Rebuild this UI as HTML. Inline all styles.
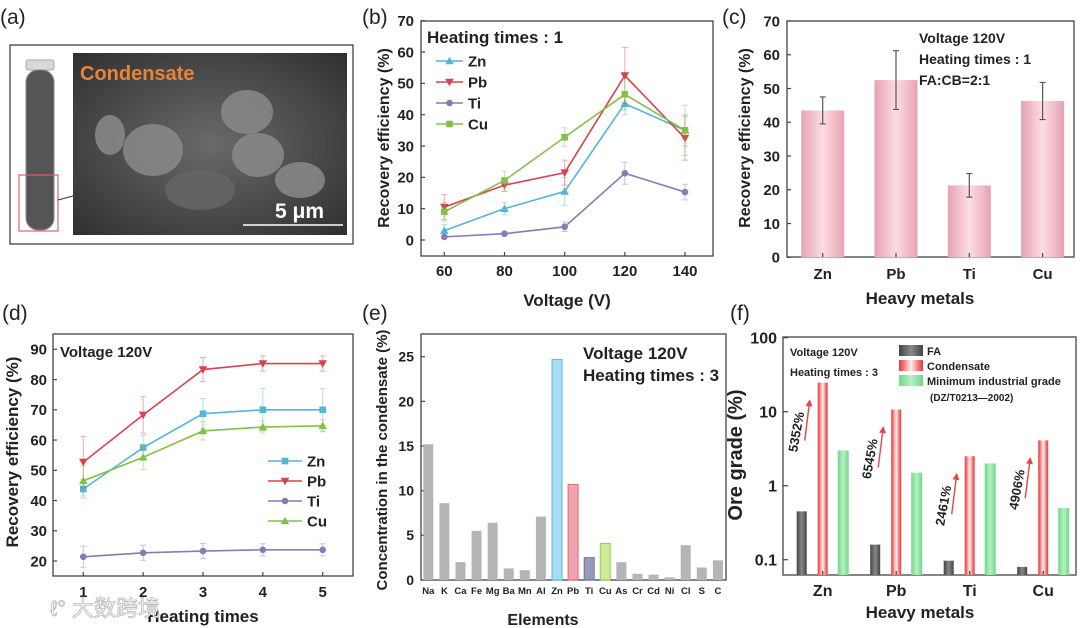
<!DOCTYPE html>
<html><head><meta charset="utf-8">
<style>
html,body{margin:0;padding:0;background:#fff;}
svg{display:block;font-family:"Liberation Sans",Arial,sans-serif;}
.t{font-weight:bold;fill:#222;}
</style></head>
<body>
<svg id="fig" width="1080" height="628" viewBox="0 0 1080 628" xmlns="http://www.w3.org/2000/svg">
<defs>
<linearGradient id="pinkG" x1="0" x2="1" y1="0" y2="0"><stop offset="0" stop-color="#e7a2b3"/><stop offset="0.5" stop-color="#fcdde2"/><stop offset="1" stop-color="#e7a2b3"/></linearGradient>
<linearGradient id="grayG" x1="0" x2="1"><stop offset="0" stop-color="#444"/><stop offset="0.5" stop-color="#888"/><stop offset="1" stop-color="#444"/></linearGradient>
<linearGradient id="redG" x1="0" x2="1"><stop offset="0" stop-color="#e23c3c"/><stop offset="0.2" stop-color="#f07878"/><stop offset="0.5" stop-color="#fff0f0"/><stop offset="0.8" stop-color="#f07878"/><stop offset="1" stop-color="#e23c3c"/></linearGradient>
<linearGradient id="greenG" x1="0" x2="1"><stop offset="0" stop-color="#6fd88a"/><stop offset="0.5" stop-color="#b6f0c2"/><stop offset="1" stop-color="#6fd88a"/></linearGradient>
<radialGradient id="semG" cx="0.5" cy="0.5" r="0.7"><stop offset="0" stop-color="#6a6a6a"/><stop offset="1" stop-color="#303030"/></radialGradient>
<marker id="arr" viewBox="0 0 10 10" refX="8" refY="5" markerWidth="5" markerHeight="5" orient="auto"><path d="M0,0 L10,5 L0,10 z" fill="#e04848"/></marker>
</defs>

<!-- Panel a -->
<g>
<text x="0" y="24" font-size="21" fill="#222">(a)</text>
<rect x="10" y="45" width="343" height="199" fill="#fff" stroke="#333" stroke-width="1.2"/>
<rect x="26" y="60" width="28" height="10" rx="2" fill="#d8d8d8" stroke="#aaa"/>
<rect x="26" y="70" width="28" height="160" rx="12" fill="#555" stroke="#888"/>
<rect x="19" y="175" width="39" height="56" fill="none" stroke="#e06060" stroke-width="1.2"/>
<line x1="58" y1="200" x2="73" y2="196" stroke="#333"/>
<rect x="73" y="53" width="274" height="182" fill="url(#semG)"/>
<g fill="#8a8a8a" opacity="0.85">
<ellipse cx="153" cy="150" rx="30" ry="26"/><ellipse cx="247" cy="112" rx="26" ry="22"/><ellipse cx="258" cy="155" rx="26" ry="22"/><ellipse cx="110" cy="135" rx="15" ry="20"/><ellipse cx="300" cy="180" rx="25" ry="18"/><ellipse cx="200" cy="190" rx="35" ry="20" fill="#666"/></g>
<text x="80" y="80" font-size="20" font-weight="bold" fill="#e8843a">Condensate</text>
<text x="275" y="218" font-size="21" font-weight="bold" fill="#fff">5 μm</text>
<line x1="243" y1="225" x2="343" y2="225" stroke="#fff" stroke-width="1.5"/>
</g>

<text x="362" y="24" font-size="21" fill="#222">(b)</text>
<text x="722" y="24" font-size="21" fill="#222">(c)</text>
<text x="2" y="320" font-size="21" fill="#222">(d)</text>
<text x="362" y="320" font-size="21" fill="#222">(e)</text>
<text x="730" y="320" font-size="21" fill="#222">(f)</text>

<g id="gb"></g>
<g id="gc"></g>
<g id="gd"></g>
<g id="ge"></g>
<g id="gf"></g>

<text x="50" y="616" font-size="22" fill="#fff" stroke="#bbb" stroke-width="0.8" font-family="'Liberation Sans','Noto Sans CJK SC',sans-serif">ℓ° 大数跨境</text>
</svg>
<script>
// ---------- data ----------
const bVoltages = [60, 80, 100, 120, 140];
const bZn = [3, 10, 15.5, 43.5, 35];
const bPb = [10.5, 17.5, 21.5, 52.5, 32.5];
const bTi = [1, 2, 4.2, 21.3, 15.3];
const bCu = [9, 19, 32.8, 46.5, 35];
const bZnErr = [2, 2, 4.5, 3.5, 5];
const bPbErr = [4, 2, 4, 9, 7];
const bTiErr = [0.5, 0.5, 1.5, 3.5, 2.5];
const bCuErr = [3, 3, 3, 5, 8];
const bYTicks = [0, 10, 20, 30, 40, 50, 60, 70];

const cMetals = ["Zn", "Pb", "Ti", "Cu"];
const cValues = [43.5, 52.5, 21.3, 46.3];
const cErr = [4, 8.7, 3.5, 5.5];
const cYTicks = [0, 10, 20, 30, 40, 50, 60, 70];

const dTimes = [1, 2, 3, 4, 5];
const dZn = [43.8, 57.5, 68.7, 70, 70];
const dPb = [52.7, 68.3, 83.3, 85.3, 85.3];
const dTi = [21.4, 22.7, 23.3, 23.7, 23.7];
const dCu = [46.5, 54.3, 63, 64.3, 64.7];
const dZnErr = [3, 4, 5, 7, 7];
const dPbErr = [8.5, 6, 4, 2.5, 2.5];
const dTiErr = [3.5, 2.5, 2.5, 2, 2];
const dCuErr = [5, 4, 3, 2, 2];
const dYTicks = [20, 30, 40, 50, 60, 70, 80, 90];

const eElements = ["Na","K","Ca","Fe","Mg","Ba","Mn","Al","Zn","Pb","Ti","Cu","As","Cr","Cd","Ni","Cl","S","C"];
const eValues = [15.2, 8.6, 2, 5.5, 6.4, 1.3, 1.1, 7.1, 24.7, 10.7, 2.5, 4.1, 2, 0.7, 0.6, 0.3, 3.9, 1.4, 2.2];
const eYTicks = [0, 5, 10, 15, 20, 25];

const fMetals = ["Zn", "Pb", "Ti", "Cu"];
const fFA = [0.45, 0.16, 0.097, 0.08];
const fCondensate = [24.7, 10.7, 2.5, 4.1];
const fMinGrade = [3, 1.5, 2, 0.5];
const fIncrease = ["5352%", "6545%", "2461%", "4906%"];
const fYTicks = [0.1, 1, 10, 100];

// ---------- helpers ----------
const NS = "http://www.w3.org/2000/svg";
function mk(parent, tag, attrs, txt) {
  const el = document.createElementNS(NS, tag);
  for (const k in attrs) el.setAttribute(k, attrs[k]);
  if (txt !== undefined) el.textContent = txt;
  parent.appendChild(el);
  return el;
}
function lin(d0, d1, r0, r1) { return v => r0 + (v - d0) * (r1 - r0) / (d1 - d0); }

function frame(g, L, T, R, B) {
  const f = mk(g, "rect", {x: L, y: T, width: R - L, height: B - T, fill: "none", stroke: "#444", "stroke-width": 1.3});
  
  
}
function yAxis(g, ticks, y, L, lx, fs) {
  ticks.forEach(t => {
    const ln = mk(g, "line", {x1: L, x2: L + 4, y1: y(t), y2: y(t), stroke: "#444", "stroke-width": 1.2});
    
    
    const tx = mk(g, "text", {x: lx, y: y(t) + fs * 0.35, "font-size": fs, "text-anchor": "end", class: "t"}, String(t));
    
    
  });
}
function yTitle(g, text, x, y, fs) {
  const tx = mk(g, "text", {x: x, y: y, "font-size": fs, "text-anchor": "middle", class: "t", transform: `rotate(-90 ${x} ${y})`}, text);
  
  
}
function xTitle(g, text, x, y, fs) {
  const tx = mk(g, "text", {x: x, y: y, "font-size": fs, "text-anchor": "middle", class: "t"}, text);
  
  
}
function xTick(g, x, B, label, ly, fs) {
  const ln = mk(g, "line", {x1: x, x2: x, y1: B, y2: B - 4, stroke: "#444", "stroke-width": 1.2});
  
  
  const tx = mk(g, "text", {x: x, y: ly, "font-size": fs, "text-anchor": "middle", class: "t"}, label);
  
  
}
function marker(g, type, x, y, col, s) {
  let el;
  if (type === "sq") el = mk(g, "rect", {x: x - s, y: y - s, width: 2 * s, height: 2 * s, fill: col});
  else if (type === "dn") el = mk(g, "path", {d: `M${x - s - 1},${y - s} L${x + s + 1},${y - s} L${x},${y + s + 1} Z`, fill: col});
  else if (type === "up") el = mk(g, "path", {d: `M${x - s - 1},${y + s} L${x + s + 1},${y + s} L${x},${y - s - 1} Z`, fill: col});
  else el = mk(g, "circle", {cx: x, cy: y, r: s, fill: col});
  
  
}
function series(g, xs, vals, errs, x, y, col, type, name) {
  const sg = mk(g, "g", {});
  
  
  vals.forEach((v, i) => {
    const X = x(xs[i]);
    const e = mk(sg, "path", {d: `M${X},${y(v - errs[i])} V${y(v + errs[i])} M${X - 3},${y(v - errs[i])} h6 M${X - 3},${y(v + errs[i])} h6`, stroke: col, "stroke-width": 1, fill: "none", opacity: 0.45});
    
    
  });
  const pl = mk(sg, "polyline", {points: vals.map((v, i) => x(xs[i]) + "," + y(v)).join(" "), fill: "none", stroke: col, "stroke-width": 1.6});
  
  
  vals.forEach((v, i) => marker(sg, type, x(xs[i]), y(v), col, 3.3));
}
function legendEntry(g, x1, x2, ty, col, type, label, fs) {
  const lg = mk(g, "g", {});
  
  
  mk(lg, "line", {x1: x1, x2: x2, y1: ty, y2: ty, stroke: col, "stroke-width": 1.6});
  marker(lg, type, (x1 + x2) / 2, ty, col, 3.3);
  mk(lg, "text", {x: x2 + 5, y: ty + fs * 0.36, "font-size": fs, class: "t"}, label);
}
function label(g, x, y, fs, text, name) {
  const t = mk(g, "text", {x: x, y: y, "font-size": fs, class: "t"}, text);
  
  
  return t;
}
const CZn = "#52b6d6", CPb = "#d8424f", CTi = "#857db5", CCu = "#86bf45";

// ---------- chart b ----------
(function () {
  const g = document.getElementById("gb");
  const L = 421, T = 21, R = 713, B = 256;
  const x = lin(60, 140, 444.3, 685), y = lin(0, 70, 240, 20.7);
  frame(g, L, T, R, B);
  yAxis(g, bYTicks, y, L, 414, 15);
  bVoltages.forEach(v => xTick(g, x(v), B, String(v), 276, 15));
  yTitle(g, "Recovery efficiency (%)", 389, 138, 16);
  xTitle(g, "Voltage (V)", 567, 306, 17);
  series(g, bVoltages, bZn, bZnErr, x, y, CZn, "up", "zn");
  series(g, bVoltages, bPb, bPbErr, x, y, CPb, "dn", "pb");
  series(g, bVoltages, bTi, bTiErr, x, y, CTi, "ci", "ti");
  series(g, bVoltages, bCu, bCuErr, x, y, CCu, "sq", "cu");
  label(g, 427, 43, 17, "Heating times : 1", "legend-title");
  legendEntry(g, 436, 463, 61, CZn, "up", "Zn", 15);
  legendEntry(g, 436, 463, 82, CPb, "dn", "Pb", 15);
  legendEntry(g, 436, 463, 103, CTi, "ci", "Ti", 15);
  legendEntry(g, 436, 463, 124, CCu, "sq", "Cu", 15);
})();

// ---------- chart c ----------
(function () {
  const g = document.getElementById("gc");
  const L = 787, T = 21, R = 1074, B = 257;
  const y = lin(0, 70, 257.3, 21);
  const x = i => 822.7 + i * 73.3;
  frame(g, L, T, R, B);
  yAxis(g, cYTicks, y, L, 780, 15);
  cValues.forEach((v, i) => {
    const b = mk(g, "rect", {x: x(i) - 21.5, y: y(v), width: 43, height: y(0) - y(v), fill: "url(#pinkG)"});
    
    
    const X = x(i);
    const e = mk(g, "path", {d: `M${X},${y(v - cErr[i])} V${y(v + cErr[i])} M${X - 3},${y(v - cErr[i])} h6 M${X - 3},${y(v + cErr[i])} h6`, stroke: "#555", "stroke-width": 1.2, fill: "none"});
    
    
    xTick(g, X, B, cMetals[i], 279, 15);
  });
  yTitle(g, "Recovery efficiency (%)", 750, 138, 16);
  xTitle(g, "Heavy metals", 920, 304, 17);
  label(g, 919, 43, 14, "Voltage 120V", "annotation-voltage");
  label(g, 919, 64, 14, "Heating times : 1", "annotation-heating");
  label(g, 919, 85, 14, "FA:CB=2:1", "annotation-ratio");
})();

// ---------- chart d ----------
(function () {
  const g = document.getElementById("gd");
  const L = 53, T = 334, R = 353, B = 576;
  const x = lin(1, 5, 83.3, 322.7), y = lin(20, 90, 561, 349.3);
  frame(g, L, T, R, B);
  yAxis(g, dYTicks, y, L, 47, 15);
  dTimes.forEach(v => xTick(g, x(v), B, String(v), 597, 15));
  yTitle(g, "Recovery efficiency (%)", 18, 452, 17);
  xTitle(g, "Heating times", 203, 622, 17);
  series(g, dTimes, dZn, dZnErr, x, y, CZn, "sq", "zn");
  series(g, dTimes, dPb, dPbErr, x, y, CPb, "dn", "pb");
  series(g, dTimes, dTi, dTiErr, x, y, CTi, "ci", "ti");
  series(g, dTimes, dCu, dCuErr, x, y, CCu, "up", "cu");
  label(g, 60, 357, 15, "Voltage 120V", "annotation-voltage");
  legendEntry(g, 268, 302, 461, CZn, "sq", "Zn", 15);
  legendEntry(g, 268, 302, 481, CPb, "dn", "Pb", 15);
  legendEntry(g, 268, 302, 501, CTi, "ci", "Ti", 15);
  legendEntry(g, 268, 302, 521, CCu, "up", "Cu", 15);
})();

// ---------- chart e ----------
(function () {
  const g = document.getElementById("ge");
  const L = 421, T = 334, R = 726, B = 580;
  const y = lin(0, 25, 580, 356.7);
  const x = i => 428.3 + i * 16.09;
  const fills = {Zn: "#a9dcf2", Pb: "#f2a3ad", Ti: "#9a98bd", Cu: "#cdeb98"};
  const strokes = {Zn: "#5cb8e0", Pb: "#e06a78", Ti: "#707098", Cu: "#9cc850"};
  frame(g, L, T, R, B);
  yAxis(g, eYTicks, y, L, 414, 14);
  eValues.forEach((v, i) => {
    const el = eElements[i];
    const b = mk(g, "rect", {x: x(i) - 5, y: y(v), width: 10, height: y(0) - y(v), fill: fills[el] || "#b5b5b5", stroke: strokes[el] || "none", "stroke-width": 1});
    
    
    const t = mk(g, "text", {x: x(i), y: 594, "font-size": 9.5, "text-anchor": "middle", class: "t"}, el);
    
    
  });
  yTitle(g, "Concentration in the condensate (%)", 387, 460, 15);
  xTitle(g, "Elements", 543, 628 - 3, 16);
  label(g, 583, 359, 17, "Voltage 120V", "annotation-voltage");
  label(g, 583, 381, 17, "Heating times : 3", "annotation-heating");
})();

// ---------- chart f ----------
(function () {
  const g = document.getElementById("gf");
  const L = 783, T = 337, R = 1076, B = 575;
  const y = v => 559.7 - (Math.log10(v) + 1) * 74;
  const x = i => 822.7 + i * 73.5;
  frame(g, L, T, R, B);
  fYTicks.forEach(t => {
    const ln = mk(g, "line", {x1: L, x2: L + 5, y1: y(t), y2: y(t), stroke: "#444", "stroke-width": 1.2});
    
    
    const tx = mk(g, "text", {x: 777, y: y(t) + 6, "font-size": 16, "text-anchor": "end", class: "t"}, String(t));
    
    
  });
  fMetals.forEach((m, i) => {
    const X = x(i);
    const y0 = B;
    const a = mk(g, "rect", {x: X - 26, y: y(fFA[i]), width: 10, height: y0 - y(fFA[i]), fill: "url(#grayG)"});
    
    
    const c = mk(g, "rect", {x: X - 5, y: y(fCondensate[i]), width: 10, height: y0 - y(fCondensate[i]), fill: "url(#redG)"});
    
    
    const n = mk(g, "rect", {x: X + 15, y: y(fMinGrade[i]), width: 11, height: y0 - y(fMinGrade[i]), fill: "url(#greenG)"});
    
    
    // growth arrow from FA to condensate
    const ax = X - 18, yA = y(fFA[i]) - 18, yB = y(fCondensate[i]) + 8;
    const ar = mk(g, "line", {x1: ax, y1: Math.min(yA, yB + 50), x2: ax + 5, y2: yB + 10, stroke: "#e04848", "stroke-width": 1.4, "marker-end": "url(#arr)"});
    
    
    const ty = (Math.min(yA, yB + 50) + yB + 10) / 2 + 12;
    const tx = ax - 4;
    const t = mk(g, "text", {x: tx, y: ty, "font-size": 13, "text-anchor": "middle", class: "t", transform: `rotate(-80 ${tx} ${ty})`}, fIncrease[i]);
    
    
    xTick(g, X, B, m, 596, 16);
  });
  yTitle(g, "Ore grade (%)", 742, 455, 20);
  xTitle(g, "Heavy metals", 920, 618, 17);
  label(g, 790, 356, 11, "Voltage 120V", "annotation-voltage");
  label(g, 790, 376, 11, "Heating times : 3", "annotation-heating");
  const sw = [["url(#grayG)", "FA", 351], ["url(#redG)", "Condensate", 366], ["url(#greenG)", "Minimum industrial grade", 381]];
  sw.forEach(s => {
    const lg = mk(g, "g", {});
    
    
    mk(lg, "rect", {x: 899, y: s[2] - 6, width: 24, height: 11, fill: s[0]});
    mk(lg, "text", {x: 927, y: s[2] + 4, "font-size": 11, class: "t"}, s[1]);
  });
  label(g, 930, 401, 10, "(DZ/T0213—2002)", "legend-note");
})();
</script>
</body></html>
